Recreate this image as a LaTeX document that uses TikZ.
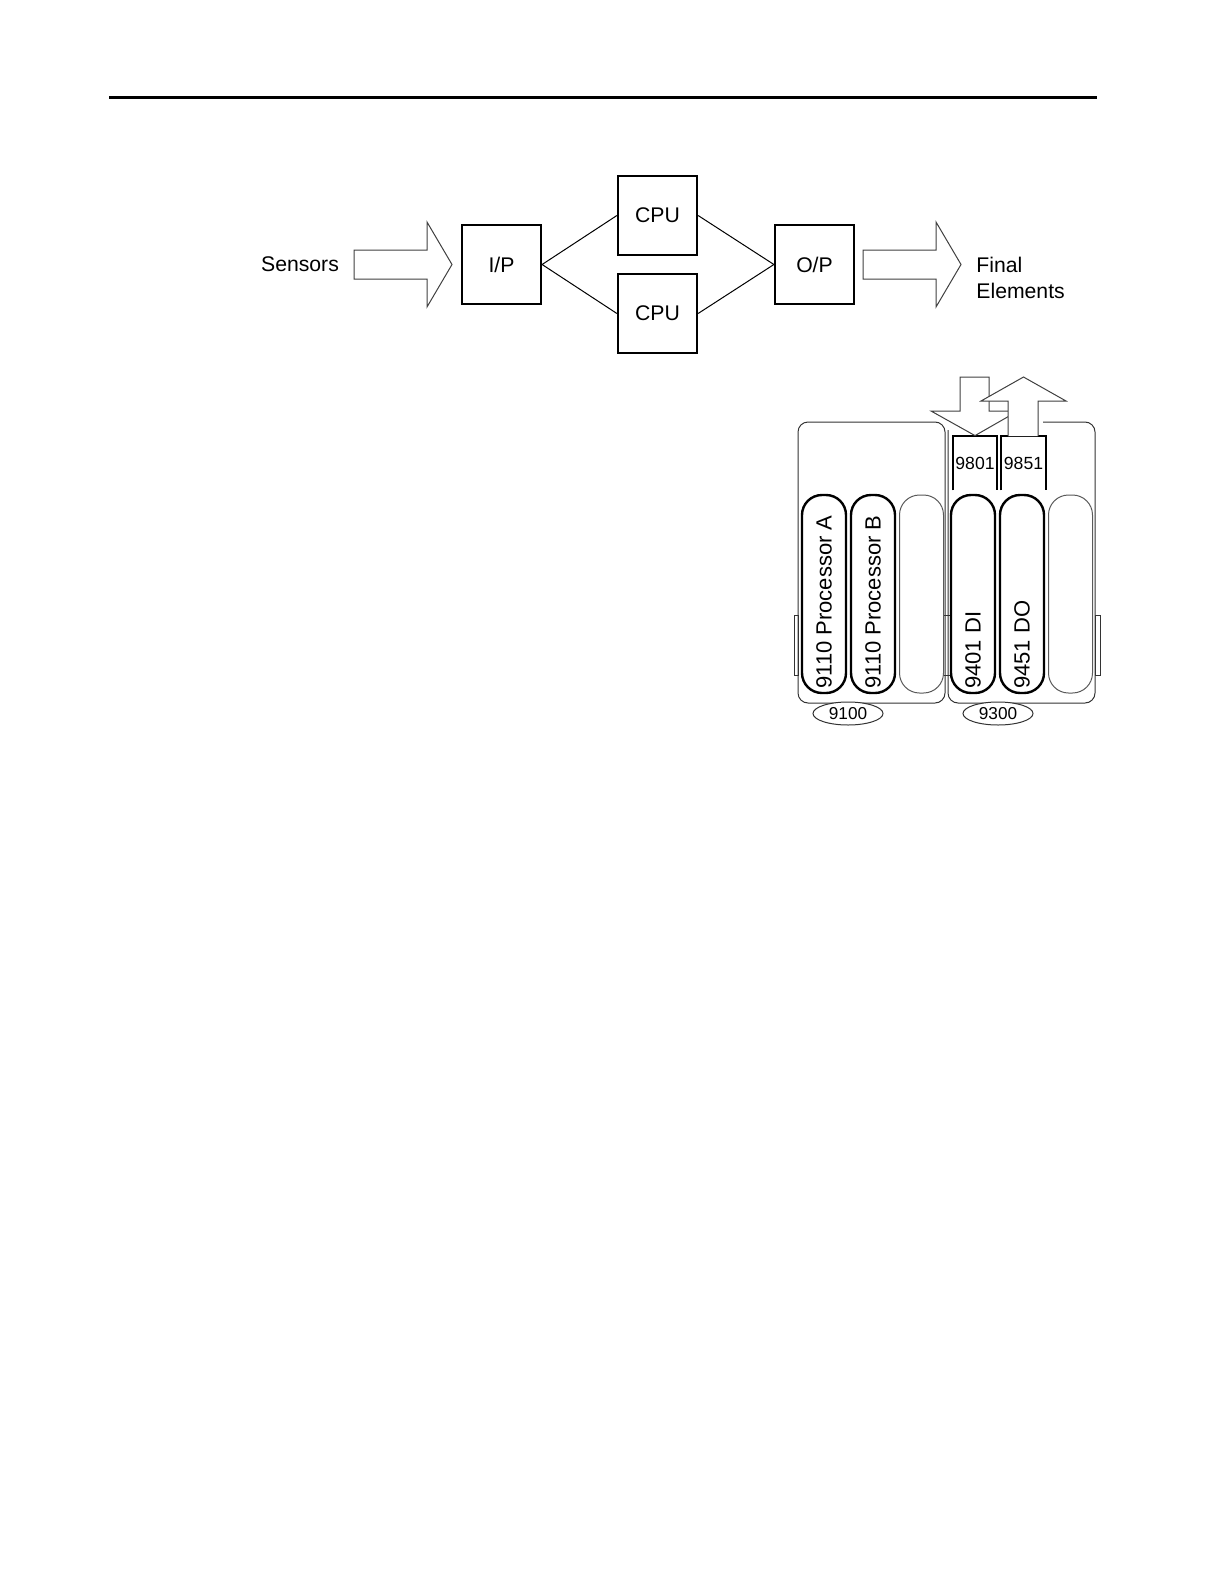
\documentclass[tikz,border=0pt]{standalone}
\usepackage{fontspec}
\setmainfont{Liberation Sans}
\usetikzlibrary{shapes.geometric}
\usetikzlibrary{positioning}
\usetikzlibrary{calc}

\begin{document}
\begin{tikzpicture}[x=0.5pt, y=-0.5pt,
  blk/.style={draw, line width=1.1pt, minimum width=39.5pt, minimum height=39.5pt, inner sep=0pt, font=\fontsize{10.6}{12.7}\selectfont},
  txt/.style={inner sep=0pt, font=\fontsize{10.6}{13}\selectfont},
  barrow/.style={draw=black!75, line width=0.5pt, fill=white, line join=miter},
  mod/.style={draw, line width=1.2pt, rounded corners=10pt, minimum width=22pt, minimum height=99pt, inner sep=0pt},
  spare/.style={mod, draw=black!65, line width=0.5pt},
  modlab/.style={rotate=90, anchor=west, inner sep=0pt, font=\fontsize{11}{13}\selectfont},
  term/.style={minimum width=22pt, minimum height=27pt, inner sep=0pt, font=\fontsize{8.8}{10}\selectfont},
  rack/.style={draw=black!80, line width=0.5pt, rounded corners=5pt},
  ell/.style={ellipse, draw=black!80, fill=white, line width=0.5pt, minimum width=35pt, minimum height=11.5pt, inner sep=0pt, font=\fontsize{8.6}{10}\selectfont}]
\useasboundingbox (0,0) rectangle (1224,1584);
\draw[line width=1.5pt] (109,98) -- (1097,98);
% redundant processing
\node (sens) at (300,264) [txt] {Sensors};
\node (ip) at (501.5,264.5) [blk] {I/P};
\node (cpua) at (657.5,215.5) [blk] {CPU};
\node (cpub) at (657.5,313.5) [blk] {CPU};
\node (op) at (814.5,264.5) [blk] {O/P};
\node (fin) at (976,278) [txt, anchor=west, align=left] {Final\\Elements};
\draw[barrow] (354,250) -- (427,250) -- (427,222) -- (452,264.5) -- (427,307) -- (427,279) -- (354,279) -- cycle;
\draw[barrow] (863,250) -- (936,250) -- (936,222) -- (961,264.5) -- (936,307) -- (936,279) -- (863,279) -- cycle;
\draw[line width=0.5pt] (ip.east) -- (cpua.west);
\draw[line width=0.5pt] (ip.east) -- (cpub.west);
\draw[line width=0.5pt] (cpua.east) -- (op.west);
\draw[line width=0.5pt] (cpub.east) -- (op.west);
% chassis
\draw[rack] (798,422) rectangle (945,703);
\draw[rack] (1043,422) -- (1095,422) -- (1095,703) -- (948,703) -- (948,430);
\draw[draw=black!80, line width=0.5pt] (794,615) rectangle (798,675);
\draw[draw=black!80, line width=0.5pt] (943,615) rectangle (950,675);
\draw[draw=black!80, line width=0.5pt] (1095,615) rectangle (1100,675);
\node (m1) at (824,594) [mod] {};
\node (m2) at (873,594) [mod] {};
\node (m3) at (921.5,594) [spare] {};
\node (m4) at (973,594) [mod] {};
\node (m5) at (1022,594) [mod] {};
\node (m6) at (1070.5,594) [spare] {};
\node at ($(m1.south)+(0,-5)$) [modlab] {9110 Processor A};
\node at ($(m2.south)+(0,-5)$) [modlab] {9110 Processor B};
\node at ($(m4.south)+(0,-5)$) [modlab] {9401 DI};
\node at ($(m5.south)+(0,-5)$) [modlab] {9451 DO};
\node (c9100) at (848,713.5) [ell] {9100};
\node (c9300) at (998,713.5) [ell] {9300};
% field terminations
\node (t9801) at (975,463) [term] {9801};
\node (t9851) at (1023.5,463) [term] {9851};
\draw[line width=1pt] (t9801.south west) |- (t9801.north) -| (t9801.south east);
\draw[line width=1pt] (t9851.south west) |- (t9851.north) -| (t9851.south east);
\draw[barrow] (960,377) -- (989,377) -- (989,411) -- (1018,411) -- (t9801.north) -- (931,411) -- (960,411) -- cycle;
\draw[barrow] (1008,436) -- (1008,401) -- (981,401) -- (1023.5,377) -- (1066,401) -- (1038,401) -- (1038,436);
\end{tikzpicture}
\end{document}
